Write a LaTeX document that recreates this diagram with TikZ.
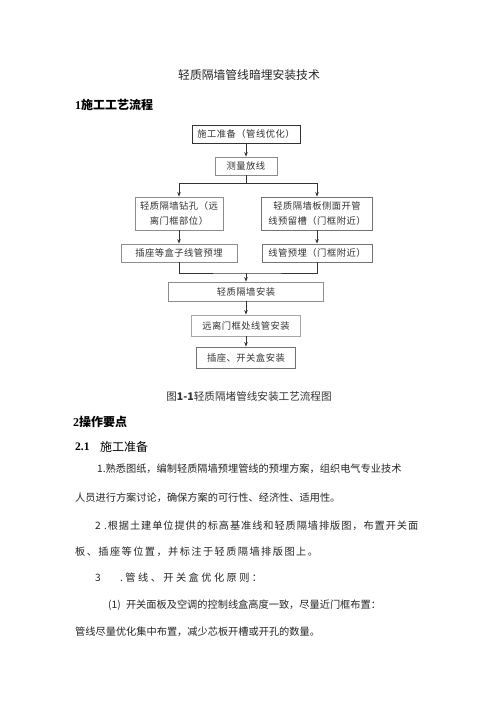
\documentclass[tikz,border=0pt]{standalone}
\usepackage{fontspec}
\setmainfont{Liberation Serif}
\newfontfamily\cjk{Noto Sans CJK SC}
\newfontfamily\cjkwide[LetterSpace=9]{Noto Sans CJK SC}
\newfontfamily\cjkwideb[LetterSpace=14]{Noto Sans CJK SC}
\newfontfamily\cjkwider[LetterSpace=24]{Noto Sans CJK SC}
\newfontfamily\boxfont[LetterSpace=5]{Noto Sans CJK SC}
\usetikzlibrary{arrows.meta}
\begin{document}
\begin{tikzpicture}[x=1pt,y=-1pt,
  flowbox/.style={draw=black!45, line width=0.8pt, rectangle, inner sep=0pt,
    align=center, font=\boxfont\fontsize{9.3}{15}\selectfont, text=black!80},
  darkbox/.style={flowbox, draw=black!80},
  conn/.style={draw=black!80, line width=0.8pt},
  arr/.style={conn, -{Stealth[length=4.5pt,width=3.5pt]}},
  bodytext/.style={anchor=west, inner sep=0pt, text=black!85, font=\cjk\fontsize{10.2}{12}\selectfont},
  heading/.style={anchor=west, inner sep=0pt, text=black}]
\useasboundingbox (0,0) rectangle (500,707);
\fill[white] (0,0) rectangle (500,707);

% title and headings
\node[inner sep=0pt, text=black!85, font=\cjk\fontsize{11.8}{14}\selectfont] (title) at (249,75) {轻质隔墙管线暗埋安装技术};
\node[heading] (h1) at (75,105) {\fontsize{12}{14}\selectfont\bfseries 1{\cjk 施工工艺流程}};

% flowchart
\node[darkbox, minimum width=108pt, minimum height=18pt] (b1) at (246,134) {施工准备（管线优化）};
\node[flowbox, minimum width=62pt, minimum height=18pt] (b2) at (246,166) {测量放线};
\node[flowbox, minimum width=88pt, minimum height=33pt] (b3) at (179,213.5) {轻质隔墙钻孔（远\\离门框部位）};
\node[flowbox, draw=black!55, minimum width=111pt, minimum height=33pt] (b4) at (317,213.5) {轻质隔墙板侧面开管\\线预留槽（门框附近）};
\node[flowbox, minimum width=116pt, minimum height=18pt] (b5) at (179,253) {插座等盒子线管预埋};
\node[flowbox, draw=black!55, minimum width=110pt, minimum height=18pt] (b6) at (317,253) {线管预埋（门框附近）};
\node[flowbox, minimum width=155pt, minimum height=19pt] (b7) at (246,291.5) {轻质隔墙安装};
\node[flowbox, draw=black!35, minimum width=109pt, minimum height=21pt] (b8) at (246,325.5) {远离门框处线管安装};
\node[flowbox, draw=black!55, minimum width=99pt, minimum height=21pt] (b9) at (246,357.5) {插座、开关盒安装};

\coordinate (br) at (246,183);
\coordinate (mg) at (246,273);
\draw[arr] (b1) -- (b2);
\draw[conn] (b2.south) -- (br);
\draw[arr] (br) -| (b3.north);
\draw[arr] (br) -| (b4.north);
\draw[arr] (b3) -- (b5);
\draw[arr] (b4) -- (b6);
\draw[conn] (b5.south) |- (mg) -| (b6.south);
\draw[arr] (mg) -- (b7.north);
\draw[arr] (b7) -- (b8);
\draw[arr] (b8) -- (b9);

% caption
\node[inner sep=0pt, text=black!80, font=\cjk\fontsize{10.6}{12}\selectfont] (cap) at (249,396) {图{\bfseries 1-1}轻质隔堵管线安装工艺流程图};

% section 2
\node[heading] (h2) at (73,422) {\fontsize{12}{14}\selectfont\bfseries 2{\cjk 操作要点}};
\node[heading] (h21) at (75,447) {\fontsize{11.5}{14}\selectfont\bfseries 2.1};
\node[heading] (h21t) at (100,447) {\cjk\fontsize{12}{14}\selectfont 施工准备};

\node[bodytext] (l1) at (97,469) {1.熟悉图纸，编制轻质隔墙预埋管线的预埋方案，组织电气专业技术};
\node[bodytext] (l2) at (75,498) {人员进行方案讨论，确保方案的可行性、经济性、适用性。};
\node[bodytext, font=\cjkwide\fontsize{10.2}{12}\selectfont] (l3) at (95,526) {2 .根据土建单位提供的标高基准线和轻质隔墙排版图，布置开关面};
\node[bodytext, font=\cjkwideb\fontsize{10.2}{12}\selectfont] (l4) at (75,552) {板、插座等位置，并标注于轻质隔墙排版图上。};
\node[bodytext] (l5a) at (95,578) {3};
\node[bodytext, font=\cjkwider\fontsize{10.2}{12}\selectfont] (l5) at (120,578) {.管线、开关盒优化原则：};
\node[bodytext] (l6) at (108,605) {(1) \hspace{3pt}开关面板及空调的控制线盒高度一致，尽量近门框布置：};
\node[bodytext] (l7) at (75,632) {管线尽量优化集中布置，减少芯板开槽或开孔的数量。};
\end{tikzpicture}
\end{document}
